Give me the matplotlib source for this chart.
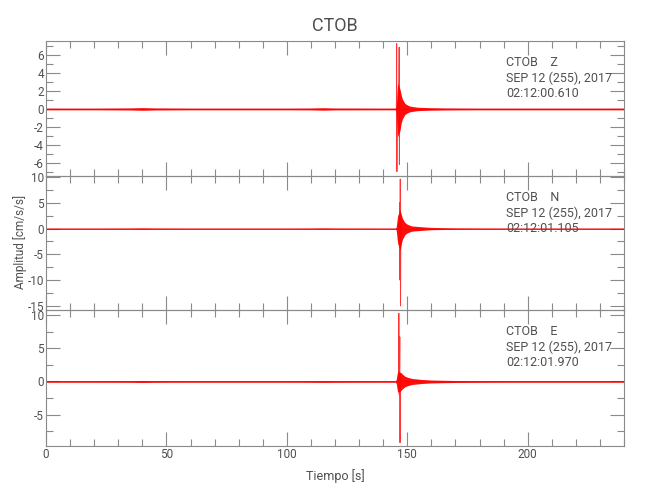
import matplotlib
matplotlib.use("Agg")
import matplotlib.pyplot as plt
from matplotlib.ticker import MultipleLocator

# ---------------- data ----------------
title = "CTOB"
station = "CTOB"
channels = ["Z", "N", "E"]
date_label = "SEP 12 (255), 2017"
start_times = ["02:12:00.610", "02:12:01.105", "02:12:01.970"]
xlabel = "Tiempo [s]"
ylabel = "Amplitud [cm/s/s]"
xlim = (0, 240)
ylims = [(-7.5, 7.6), (-15.8, 10.2), (-9.7, 10.75)]
ymajor = [2, 5, 5]
yminor = [1, 2.5, 2.5]

# envelope of the dense trace (time in s, upper / lower amplitude)
env_t = [0, 20, 35, 40, 45, 60, 100, 110, 115, 120, 140, 145, 145.4, 146, 147,
         147.5, 148, 149, 150, 151, 152, 154, 156, 160, 165, 170, 180, 200, 240]
z_up = [0.10, 0.10, 0.12, 0.15, 0.12, 0.10, 0.10, 0.11, 0.14, 0.11, 0.10, 0.10,
        0.20, 2.9, 2.2, 1.55, 1.1, 0.63, 0.45, 0.33, 0.28, 0.20, 0.17, 0.14,
        0.12, 0.11, 0.10, 0.10, 0.10]
z_lo = [-0.10, -0.10, -0.12, -0.15, -0.12, -0.10, -0.10, -0.11, -0.14, -0.11,
        -0.10, -0.10, -0.20, -3.1, -2.4, -1.55, -1.1, -0.63, -0.45, -0.33,
        -0.28, -0.20, -0.17, -0.14, -0.12, -0.11, -0.10, -0.10, -0.10]
n_up = [0.12, 0.12, 0.13, 0.15, 0.13, 0.12, 0.12, 0.13, 0.15, 0.13, 0.12, 0.12,
        0.25, 2.5, 3.6, 2.8, 2.0, 1.2, 0.85, 0.65, 0.50, 0.42, 0.35, 0.22,
        0.18, 0.15, 0.13, 0.12, 0.12]
n_lo = [-0.12, -0.12, -0.13, -0.15, -0.13, -0.12, -0.12, -0.13, -0.15, -0.13,
        -0.12, -0.12, -0.25, -2.8, -4.2, -3.0, -2.1, -1.2, -0.85, -0.65, -0.50,
        -0.42, -0.35, -0.22, -0.18, -0.15, -0.13, -0.12, -0.12]
e_up = [0.12, 0.12, 0.13, 0.15, 0.13, 0.12, 0.12, 0.13, 0.14, 0.13, 0.12, 0.12,
        0.25, 1.5, 1.4, 1.3, 1.1, 0.80, 0.65, 0.55, 0.45, 0.38, 0.30, 0.22,
        0.18, 0.15, 0.13, 0.12, 0.12]
e_lo = [-0.12, -0.12, -0.13, -0.15, -0.13, -0.12, -0.12, -0.13, -0.14, -0.13,
        -0.12, -0.12, -0.25, -1.6, -1.5, -1.3, -1.1, -0.80, -0.65, -0.55,
        -0.45, -0.38, -0.30, -0.22, -0.18, -0.15, -0.13, -0.12, -0.12]

# strongest swings of each trace (time in s, amplitude)
z_peak_t = [145.5, 145.6, 145.7, 145.8, 146.5, 146.65, 146.75, 146.85]
z_peak_v = [0.0, 7.3, -7.0, 0.5, 0.3, 6.9, -6.2, 0.0]
n_peak_t = [146.4, 146.6, 146.75, 146.9, 147.0, 147.1, 147.2, 147.35, 147.5]
n_peak_v = [0.0, 1.2, -2.0, 5.0, -10.0, 9.6, -15.0, 2.0, 0.0]
e_peak_t = [146.2, 146.4, 146.5, 146.7, 146.9, 147.0, 147.1, 147.3]
e_peak_v = [0.0, 1.5, 10.25, -2.0, 6.7, -9.2, 1.0, 0.0]

ups = [z_up, n_up, e_up]
los = [z_lo, n_lo, e_lo]
peak_ts = [z_peak_t, n_peak_t, e_peak_t]
peak_vs = [z_peak_v, n_peak_v, e_peak_v]

# ---------------- figure ----------------
FONT = ["Roboto", "DejaVu Sans"]
TXT = "#505050"
AX = "#8a8a8a"
plt.rcParams["font.family"] = FONT
plt.rcParams["axes.unicode_minus"] = False

fig = plt.figure(figsize=(6.5, 5.0), dpi=100)
W, H = 650.0, 500.0
left, right = 46 / W, 624 / W
tops = [41, 176, 310]
bots = [176, 310, 446]

for i in range(3):
    ax = fig.add_axes([left, 1 - bots[i] / H, right - left, (bots[i] - tops[i]) / H])
    ax.fill_between(env_t, los[i], ups[i], color="red", lw=0, alpha=0.95, zorder=2)
    ax.plot(env_t, [0] * len(env_t), color="red", lw=0.5, zorder=2)
    ax.plot(peak_ts[i], peak_vs[i], color="red", lw=0.7, alpha=0.8, zorder=3,
            clip_on=False)
    ax.set_xlim(*xlim)
    ax.set_ylim(*ylims[i])
    ax.xaxis.set_major_locator(MultipleLocator(50))
    ax.xaxis.set_minor_locator(MultipleLocator(10))
    ax.yaxis.set_major_locator(MultipleLocator(ymajor[i]))
    ax.yaxis.set_minor_locator(MultipleLocator(yminor[i]))
    ax.tick_params(which="both", direction="in", top=True, right=True,
                   colors=AX, labelcolor=TXT, width=0.8, labelsize=8.5)
    ax.tick_params(which="major", length=10, pad=1.5)
    ax.tick_params(which="minor", length=5)
    for s in ax.spines.values():
        s.set_color(AX)
        s.set_linewidth(0.8)
    if i < 2:
        ax.set_xticklabels([])
    else:
        ax.set_xlabel(xlabel, color=TXT, fontsize=9, labelpad=6)
    ax.set_facecolor("none")
    ax.text(0.796, 0.89, f"{station}    {channels[i]}\n{date_label}\n{start_times[i]}",
            transform=ax.transAxes, ha="left", va="top", color=TXT,
            fontsize=9, linespacing=1.25, zorder=5)

fig.text(335 / W, 1 - 26 / H, title, ha="center", va="center", color=TXT, fontsize=13)
fig.text(20 / W, 1 - 242 / H, ylabel, ha="center", va="center", rotation=90,
         color=TXT, fontsize=8.5)

fig.savefig("out.png", dpi=100)
